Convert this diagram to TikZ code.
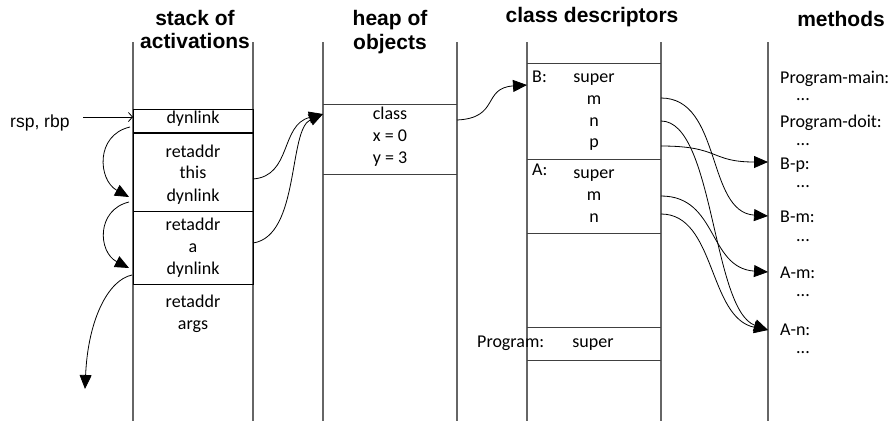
\documentclass[tikz,border=0pt]{standalone}
\usepackage{fontspec}
\setmainfont{Carlito}
\newfontfamily\arialfont{Liberation Sans}
\usetikzlibrary{arrows.meta}
\begin{document}
\begin{tikzpicture}[x=1pt,y=-1pt,
  hdr/.style={font=\arialfont\bfseries\fontsize{21}{24}\selectfont, inner sep=0pt, anchor=base},
  txt/.style={font=\fontsize{18}{22}\selectfont, inner sep=0pt, anchor=base},
  ltxt/.style={txt, anchor=base west},
  colline/.style={draw=black!60, line width=1.2pt},
  rowline/.style={draw=black!75, line width=1pt},
  boxline/.style={draw=black, line width=1pt},
  link/.style={line width=0.8pt, -{Triangle[length=14pt,width=12pt]}},
  ptr/.style={line width=0.8pt, -{Straight Barb[length=4pt,width=9pt]}},
]
\useasboundingbox (0,0) rectangle (891,421);
% ---------- headers ----------
\node[hdr] (h1a) at (195,25) {stack of};
\node[hdr] (h1b) at (195,48) {activations};
\node[hdr] (h2a) at (390,25) {heap of};
\node[hdr] (h2b) at (390,49) {objects};
\node[hdr] (h3) at (592,22) {class descriptors};
\node[hdr] (h4) at (841,26) {methods};
% ---------- columns ----------
\draw[colline] (133,42) -- (133,421);
\draw[colline] (253,42) -- (253,421);
\draw[colline] (323,42) -- (323,421);
\draw[colline] (457,42) -- (457,421);
\draw[colline] (527,42) -- (527,421);
\draw[colline] (661,42) -- (661,421);
\draw[colline] (768,42) -- (768,421);
% ---------- stack ----------
\draw[boxline] (133,109) rectangle (253,284);
\draw[black, line width=2.2pt] (133,133) -- (253,133);
\draw[boxline] (133,211) -- (253,211);
\node[txt] (s1) at (193,123) {dynlink};
\node[txt] (s2a) at (193,157) {retaddr};
\node[txt] (s2b) at (193,178) {this};
\node[txt] (s2c) at (193,201) {dynlink};
\node[txt] (s3a) at (193,230) {retaddr};
\node[txt] (s3b) at (193,252) {a};
\node[txt] (s3c) at (193,274) {dynlink};
\node[txt] (s4a) at (193,307) {retaddr};
\node[txt] (s4b) at (193,329) {args};
\node[font=\arialfont\fontsize{17.5}{20}\selectfont, inner sep=0pt, anchor=base west] (rsp) at (10,127) {rsp, rbp};
% ---------- heap ----------
\draw[rowline] (323,104) -- (457,104);
\draw[rowline] (323,174) -- (457,174);
\node[txt] (o1) at (390,119) {class};
\node[txt] (o2) at (390,141) {x = 0};
\node[txt] (o3) at (390,163) {y = 3};
% ---------- class descriptors ----------
\draw[rowline] (527,63) -- (661,63);
\draw[rowline] (527,159) -- (661,159);
\draw[rowline] (527,233) -- (661,233);
\draw[rowline] (527,327) -- (661,327);
\draw[rowline] (527,360) -- (661,360);
\node[ltxt] (cB) at (532,82) {B:};
\node[txt] (cBs) at (594,82) {super};
\node[txt] (cBm) at (594,104) {m};
\node[txt] (cBn) at (594,126) {n};
\node[txt] (cBp) at (594,147) {p};
\node[ltxt] (cA) at (532,175) {A:};
\node[txt] (cAs) at (594,178) {super};
\node[txt] (cAm) at (594,200) {m};
\node[txt] (cAn) at (594,222) {n};
\node[ltxt] (cP) at (477,347) {Program:};
\node[txt] (cPs) at (593,347) {super};
% ---------- methods ----------
\node[ltxt] (mPm) at (780,83) {Program-main:};
\node[ltxt] (dPm) at (796,100) {...};
\node[ltxt] (mPd) at (780,127) {Program-doit:};
\node[ltxt] (dPd) at (796,145) {...};
\node[ltxt] (mBp) at (780,169) {B-p:};
\node[ltxt] (dBp) at (796,187) {...};
\node[ltxt] (mBm) at (780,222) {B-m:};
\node[ltxt] (dBm) at (796,241) {...};
\node[ltxt] (mAm) at (780,278) {A-m:};
\node[ltxt] (dAm) at (796,296) {...};
\node[ltxt] (mAn) at (780,335) {A-n:};
\node[ltxt] (dAn) at (796,353) {...};
% ---------- connector end points ----------
\coordinate (rspE) at (83,117);
\coordinate (topL) at (133,117);
\coordinate (dl1) at (130,127);
\coordinate (dl2t) at (129,197);
\coordinate (dl2) at (129,202);
\coordinate (dl3t) at (129,268);
\coordinate (dl3) at (132,275);
\coordinate (outE) at (85,389);
\coordinate (thisR) at (253,179);
\coordinate (aR) at (253,243);
\coordinate (objL) at (323,114);
\coordinate (clsR) at (457,120);
\coordinate (BL) at (527,85);
\coordinate (Bm) at (661,98);
\coordinate (Bn) at (661,121);
\coordinate (Bp) at (661,146);
\coordinate (Am) at (661,196);
\coordinate (An) at (661,214);
\coordinate (tBp) at (768,162);
\coordinate (tBm) at (768,216);
\coordinate (tAm) at (768,272);
\coordinate (tAn) at (768,330);
% ---------- connectors ----------
\draw[ptr] (rspE) -- (topL);
\draw[link] (dl1) .. controls (95,135) and (98,180) .. (dl2t);
\draw[link] (dl2) .. controls (96,210) and (98,252) .. (dl3t);
\draw[link] (dl3) .. controls (108,280) and (88,320) .. (outE);
\draw[link] (thisR) .. controls (292,176) and (280,125) .. (objL);
\draw[link] (aR) .. controls (300,236) and (288,130) .. (objL);
\draw[link] (clsR) .. controls (500,118) and (482,88) .. (BL);
\draw[link] (Bm) .. controls (722,98) and (706,212) .. (tBm);
\draw[link] (Bn) .. controls (714,121) and (712,310) .. (tAn);
\draw[link] (Bp) .. controls (720,146) and (710,162) .. (tBp);
\draw[link] (Am) .. controls (718,196) and (708,268) .. (tAm);
\draw[link] (An) .. controls (716,214) and (708,318) .. (tAn);
\end{tikzpicture}
\end{document}
